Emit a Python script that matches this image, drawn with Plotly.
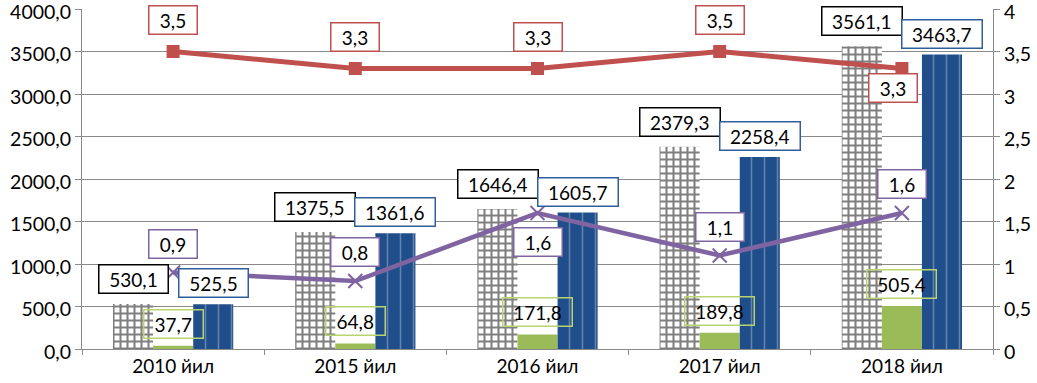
import plotly.graph_objects as go

categories = ["2010 йил", "2015 йил", "2016 йил", "2017 йил", "2018 йил"]
black_vals = [530.1, 1375.5, 1646.4, 2379.3, 3561.1]
green_vals = [37.7, 64.8, 171.8, 189.8, 505.4]
blue_vals = [525.5, 1361.6, 1605.7, 2258.4, 3463.7]
red_vals = [3.5, 3.3, 3.3, 3.5, 3.3]
purple_vals = [0.9, 0.8, 1.6, 1.1, 1.6]

# label placement styles (above / below) for line series
red_label_side = [1, 1, 1, 1, -1]
purple_label_side = [1, 1, -1, 1, 1]

FONT = "Lato"
GRID = "#8a8a8a"
RED = "#C0504D"
PURPLE = "#8064A2"
GREEN = "#9BBB59"
BLUE = "#1F4E8A"


def fmt(v):
    return f"{v:.1f}".replace(".", ",")


def box_w(s):
    digits = sum(ch.isdigit() for ch in s)
    return 10.5 * digits + 5 + 17


fig = go.Figure()
fig.add_trace(go.Bar(
    x=categories, y=black_vals, name="A",
    marker=dict(color="white", line=dict(width=0),
                pattern=dict(shape="+", fgcolor="black", bgcolor="white", size=7, solidity=0.5)),
))
fig.add_trace(go.Bar(
    x=categories, y=green_vals, name="B",
    marker=dict(color=GREEN, line=dict(width=0)),
))
fig.add_trace(go.Bar(
    x=categories, y=blue_vals, name="C",
    marker=dict(color=BLUE, line=dict(width=0),
                pattern=dict(shape="|", fgcolor="rgba(255,255,255,0.6)", bgcolor=BLUE, size=13, solidity=0.12)),
))
fig.add_trace(go.Scatter(
    x=categories, y=red_vals, yaxis="y2", mode="lines+markers", name="D",
    line=dict(color=RED, width=5),
    marker=dict(symbol="square", size=13, color=RED),
))
fig.add_trace(go.Scatter(
    x=categories, y=purple_vals, yaxis="y2", mode="lines+markers", name="E",
    line=dict(color=PURPLE, width=4.5),
    marker=dict(symbol="x-thin", size=14, line=dict(color=PURPLE, width=2)),
))

ann = []
BAR_PX = 40
LBL = dict(size=19, family=FONT, color="black")


def label(x, y, yref, text, border, xshift, yshift, bg="white"):
    return dict(x=x, y=y, xref="x", yref=yref, xshift=xshift, yshift=yshift,
                text=text, showarrow=False, bgcolor=bg, font=LBL,
                width=box_w(text), height=23,
                bordercolor=border, borderwidth=1.5, borderpad=2)


for i, c in enumerate(categories):
    ann.append(label(c, black_vals[i], "y", fmt(black_vals[i]), "black", -BAR_PX, 25))
    ann.append(label(c, blue_vals[i], "y", fmt(blue_vals[i]), "#2E5F9A", BAR_PX, 21))
    ann.append(label(c, green_vals[i], "y", fmt(green_vals[i]), "#B9D36E", 0, 22,
                     bg="rgba(0,0,0,0)"))
    up = red_label_side[i] > 0
    ann.append(label(c, red_vals[i], "y2", fmt(red_vals[i]), RED,
                     0 if up else -9, 32 if up else -19))
    ann.append(label(c, purple_vals[i], "y2", fmt(purple_vals[i]), PURPLE,
                     0, 29 * purple_label_side[i]))

fig.update_layout(
    width=1037, height=383,
    margin=dict(l=82, r=44, t=9, b=34, autoexpand=False),
    paper_bgcolor="white", plot_bgcolor="white",
    separators=", ",
    showlegend=False,
    barmode="group", bargap=0.34, bargroupgap=0,
    font=dict(family=FONT, size=19, color="black"),
    annotations=ann,
    xaxis=dict(showline=True, linecolor=GRID, linewidth=1, ticks="outside", tickson="boundaries",
               ticklen=5, tickcolor=GRID, showgrid=False, tickfont=dict(size=19), automargin=False),
    yaxis=dict(range=[0, 4000], dtick=500, tickformat=".1f", showgrid=True, gridcolor=GRID,
               gridwidth=1, showline=True, linecolor=GRID, ticks="outside", ticklen=6,
               tickcolor=GRID, zeroline=False, tickfont=dict(size=19.5), automargin=False,
               ticklabeloverflow="allow", ticklabelshift=3),
    yaxis2=dict(range=[0, 4], dtick=0.5, overlaying="y", side="right", showgrid=False,
                showline=True, linecolor=GRID, ticks="outside", ticklen=6, tickcolor=GRID,
                zeroline=False, tickfont=dict(size=19.5), automargin=False,
                ticklabeloverflow="allow", ticklabelshift=3),
)

fig.write_html("out.html", config={"displayModeBar": False},
               post_script="document.body.style.margin='0';document.body.style.overflow='hidden';")
